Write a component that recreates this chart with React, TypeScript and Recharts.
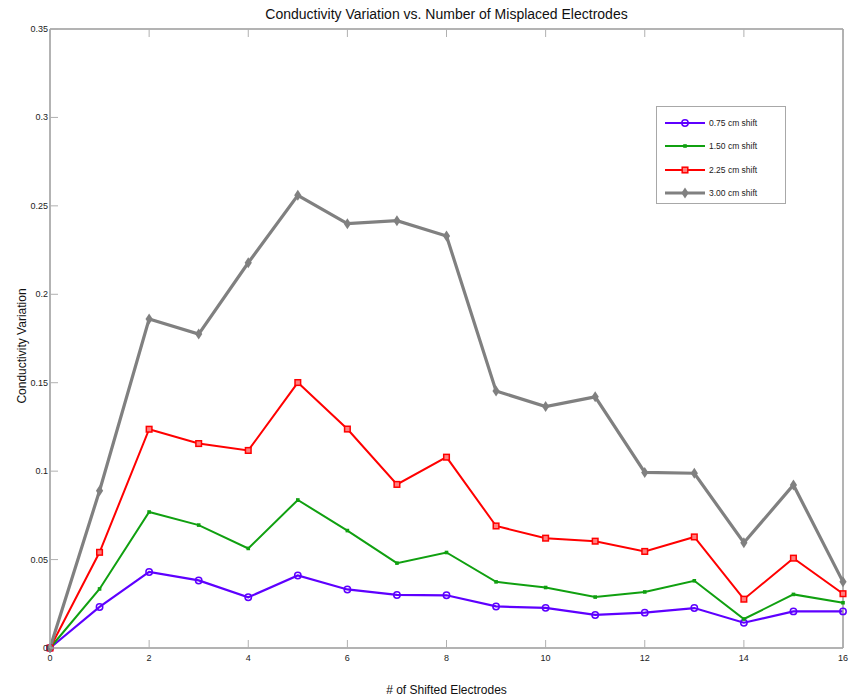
import { CartesianGrid, Legend, Line, LineChart, XAxis, YAxis } from "recharts";

const electrodes = [0, 1, 2, 3, 4, 5, 6, 7, 8, 9, 10, 11, 12, 13, 14, 15, 16];
const shift075 = [0, 0.0232, 0.043, 0.0382, 0.0287, 0.041, 0.0331, 0.03, 0.0298, 0.0235, 0.0227, 0.0187, 0.02, 0.0226, 0.0143, 0.0207, 0.0207];
const shift150 = [0, 0.0334, 0.0769, 0.0695, 0.0563, 0.0837, 0.0664, 0.048, 0.054, 0.0374, 0.0342, 0.0288, 0.0317, 0.038, 0.0164, 0.0303, 0.0256];
const shift225 = [0, 0.0541, 0.1237, 0.1156, 0.1117, 0.1501, 0.1238, 0.0925, 0.1079, 0.069, 0.0621, 0.0604, 0.0546, 0.0628, 0.0276, 0.0508, 0.0307];
const shift300 = [0, 0.0889, 0.186, 0.1775, 0.2178, 0.256, 0.2399, 0.2416, 0.233, 0.1453, 0.1365, 0.142, 0.0993, 0.0988, 0.0595, 0.0922, 0.0374];

const xTicks = [0, 2, 4, 6, 8, 10, 12, 14, 16];
const yTicks = [0, 0.05, 0.1, 0.15, 0.2, 0.25, 0.3, 0.35];

const data = electrodes.map((n, i) => ({
  n,
  s075: shift075[i],
  s150: shift150[i],
  s225: shift225[i],
  s300: shift300[i],
}));

const FONT = "'Liberation Sans', Arial, Helvetica, sans-serif";
const AXIS = "#9a9a9a";
const TICK = "#b0b0b0";

type Shape = "circle" | "smallSquare" | "square" | "diamond";

const series: { key: string; name: string; color: string; width: number; shape: Shape }[] = [
  { key: "s075", name: "0.75 cm shift", color: "#5e00ff", width: 2.2, shape: "circle" },
  { key: "s150", name: "1.50 cm shift", color: "#10a010", width: 2, shape: "smallSquare" },
  { key: "s225", name: "2.25 cm shift", color: "#ff0000", width: 2, shape: "square" },
  { key: "s300", name: "3.00 cm shift", color: "#808080", width: 3.2, shape: "diamond" },
];

function marker(shape: Shape, color: string, cx: number, cy: number, key?: string) {
  if (shape === "circle")
    return <circle key={key} cx={cx} cy={cy} r={3.2} fill="none" stroke={color} strokeWidth={1.5} />;
  if (shape === "smallSquare")
    return <rect key={key} x={cx - 1.8} y={cy - 1.8} width={3.6} height={3.6} fill={color} />;
  if (shape === "square")
    return <rect key={key} x={cx - 2.8} y={cy - 2.8} width={5.6} height={5.6} fill="#ff8080" stroke={color} strokeWidth={1.5} />;
  return (
    <path
      key={key}
      d={`M${cx},${cy - 5.5} L${cx + 3.6},${cy} L${cx},${cy + 5.5} L${cx - 3.6},${cy} Z`}
      fill={color}
    />
  );
}

const BottomTick = ({ x, y, payload }: any) => (
  <g>
    <line x1={x} x2={x} y1={y} y2={y - 8} stroke={TICK} strokeWidth={1} />
    <text x={x} y={y + 13} textAnchor="middle" fontSize={9} fontFamily={FONT} fill="#222">
      {payload.value}
    </text>
  </g>
);

const TopTick = ({ x, y }: any) => (
  <line x1={x} x2={x} y1={y} y2={y + 8} stroke={TICK} strokeWidth={1} />
);

const LeftTick = ({ x, y, payload }: any) => (
  <g>
    <line x1={x} x2={x + 8} y1={y} y2={y} stroke={TICK} strokeWidth={1} />
    <text x={x - 2} y={y + 3} textAnchor="end" fontSize={9} fontFamily={FONT} fill="#222">
      {String(payload.value)}
    </text>
  </g>
);

const RightTick = ({ x, y }: any) => (
  <line x1={x} x2={x - 8} y1={y} y2={y} stroke={TICK} strokeWidth={1} />
);

const LegendBox = () => (
  <div
    style={{
      width: 130,
      height: 98,
      border: "1px solid #a8a8a8",
      background: "#fff",
      boxSizing: "border-box",
      padding: "4px 0 0 7px",
      fontFamily: FONT,
      fontSize: 8.5,
      color: "#222",
    }}
  >
    {series.map((s) => (
      <div key={s.key} style={{ display: "flex", alignItems: "center", height: 23.5 }}>
        <svg width={42} height={14} style={{ display: "block" }}>
          <line x1={1} x2={41} y1={7} y2={7} stroke={s.color} strokeWidth={s.width} />
          {marker(s.shape, s.color, 21, 7)}
        </svg>
        <span style={{ marginLeft: 3 }}>{s.name}</span>
      </div>
    ))}
  </div>
);

export default function App() {
  return (
    <div style={{ position: "absolute", left: 0, top: 0, width: 851, height: 698, background: "#fff" }}>
      <LineChart
        width={851}
        height={698}
        data={data}
        margin={{ top: 28, right: 7, bottom: 30, left: 0 }}
      >
        <CartesianGrid stroke="none" />
        <XAxis
          xAxisId="bottom"
          dataKey="n"
          type="number"
          domain={[0, 16]}
          ticks={xTicks}
          height={20}
          tickSize={0}
          tickMargin={0}
          tickLine={false}
          axisLine={{ stroke: AXIS, strokeWidth: 1.5 }}
          tick={<BottomTick />}
        />
        <XAxis
          xAxisId="top"
          orientation="top"
          dataKey="n"
          type="number"
          domain={[0, 16]}
          ticks={xTicks}
          height={1}
          tickSize={0}
          tickMargin={0}
          tickLine={false}
          axisLine={{ stroke: AXIS, strokeWidth: 1.5 }}
          tick={<TopTick />}
        />
        <YAxis
          yAxisId="left"
          type="number"
          domain={[0, 0.35]}
          ticks={yTicks}
          width={50}
          tickSize={0}
          tickMargin={0}
          tickLine={false}
          axisLine={{ stroke: AXIS, strokeWidth: 1.5 }}
          tick={<LeftTick />}
        />
        <YAxis
          yAxisId="right"
          orientation="right"
          type="number"
          domain={[0, 0.35]}
          ticks={yTicks}
          width={1}
          tickSize={0}
          tickMargin={0}
          tickLine={false}
          axisLine={{ stroke: AXIS, strokeWidth: 1.5 }}
          tick={<RightTick />}
        />
        <Legend
          layout="horizontal"
          verticalAlign="middle"
          align="center"
          content={() => <LegendBox />}
          wrapperStyle={{ left: 656, top: 106, width: 130, height: 98 }}
        />
        {series.map((s) => (
          <Line
            key={s.key}
            xAxisId="bottom"
            yAxisId="left"
            type="linear"
            dataKey={s.key}
            name={s.name}
            stroke={s.color}
            strokeWidth={s.width}
            isAnimationActive={false}
            activeDot={false}
            dot={(p: any) => marker(s.shape, s.color, p.cx, p.cy, `${s.key}-${p.index}`)}
          />
        ))}
      </LineChart>
      <div
        style={{
          position: "absolute",
          left: 50,
          width: 793,
          top: 6,
          textAlign: "center",
          fontFamily: FONT,
          fontSize: 14,
          color: "#111",
        }}
      >
        Conductivity Variation vs. Number of Misplaced Electrodes
      </div>
      <div
        style={{
          position: "absolute",
          left: 50,
          width: 793,
          top: 683,
          textAlign: "center",
          fontFamily: FONT,
          fontSize: 12,
          color: "#111",
        }}
      >
        # of Shifted Electrodes
      </div>
      <div
        style={{
          position: "absolute",
          left: 22,
          top: 346,
          transform: "translate(-50%, -50%) rotate(-90deg)",
          whiteSpace: "nowrap",
          fontFamily: FONT,
          fontSize: 12,
          color: "#111",
        }}
      >
        Conductivity Variation
      </div>
    </div>
  );
}
